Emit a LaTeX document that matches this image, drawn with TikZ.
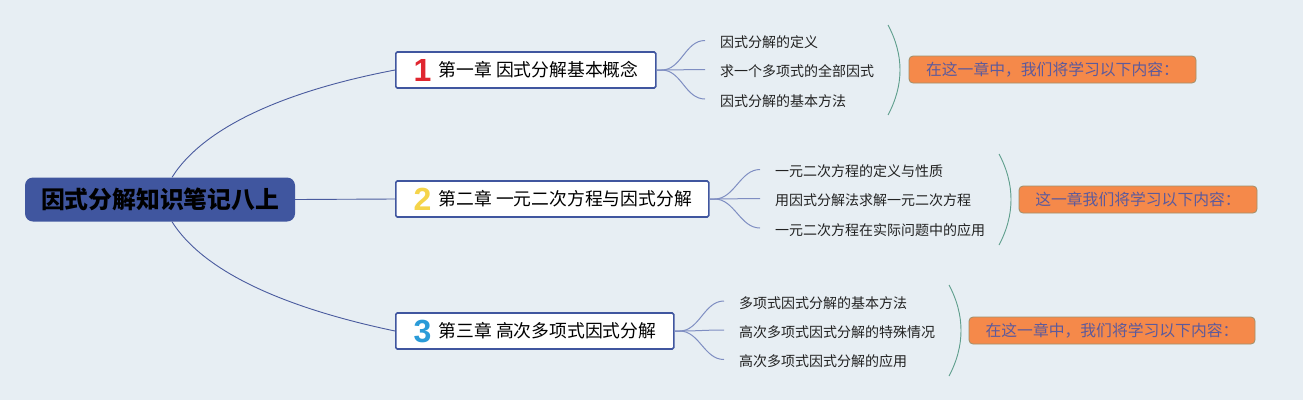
\documentclass[tikz,border=0pt]{standalone}
\usepackage{fontspec}
\setmainfont{Noto Sans CJK SC}
\newfontfamily\digitfont{Liberation Sans}
\definecolor{bg}{HTML}{E7EEF3}
\definecolor{rootfill}{HTML}{40569F}
\definecolor{mainline}{HTML}{4A5B9E}
\definecolor{subline}{HTML}{7F8EC2}
\definecolor{braceline}{HTML}{5E9E8C}
\definecolor{orangefill}{HTML}{F5894A}
\definecolor{orangeedge}{HTML}{A0906A}
\definecolor{orangetext}{HTML}{5C5A9C}
\definecolor{numred}{HTML}{E0262F}
\definecolor{numyellow}{HTML}{F5D44A}
\definecolor{numblue}{HTML}{2A9BD8}
\definecolor{subtext}{HTML}{222222}
\newcommand\chapcontent[4]{\makebox[#1][l]{\hspace*{17.7pt}\raisebox{-4.7pt}{\digitfont\bfseries\fontsize{32}{32}\selectfont\color{#2}#3}\hspace{7.5pt}#4}}
\begin{document}
\begin{tikzpicture}[x=1pt,y=-1pt,
  rootbox/.style={fill=rootfill, rounded corners=8pt, minimum width=270pt, minimum height=44pt, inner sep=0pt, font=\fontsize{23.8}{26}\selectfont\bfseries, text=black},
  chapbox/.style={draw=rootfill, line width=1.6pt, fill=white, rounded corners=1.5pt, minimum height=36pt, inner sep=0pt, anchor=west, font=\fontsize{17.8}{20}\selectfont, text=black},
  subnode/.style={anchor=west, inner sep=0pt, font=\fontsize{14}{16}\selectfont, text=subtext},
  notebox/.style={fill=orangefill, draw=orangeedge, line width=0.8pt, rounded corners=4pt, minimum height=27pt, inner sep=0pt, font=\fontsize{15.8}{18}\selectfont, text=orangetext},
  mainconn/.style={draw=mainline, line width=0.9pt},
  subconn/.style={draw=subline, line width=1pt},
  bracearc/.style={draw=braceline, line width=0.9pt}
]
\fill[bg] (0,0) rectangle (1303,400);
\useasboundingbox (0,0) rectangle (1303,400);

% root
\node[rootbox] (root) at (160,199.5) {因式分解知识笔记八上};

% chapters
\node[chapbox, minimum width=260pt] (c1) at (395,70) {\chapcontent{260pt}{numred}{1}{第一章 因式分解基本概念}};
\node[chapbox, minimum width=313pt] (c2) at (395,199) {\chapcontent{313pt}{numyellow}{2}{第二章 一元二次方程与因式分解}};
\node[chapbox, minimum width=278pt] (c3) at (395,331) {\chapcontent{278pt}{numblue}{3}{第三章 高次多项式因式分解}};

% root connectors
\draw[mainconn] ([xshift=12pt]root.north) .. controls (205,125) and (290,90) .. (c1.west);
\draw[mainconn] (root.east) -- (c2.west);
\draw[mainconn] ([xshift=12pt]root.south) .. controls (205,274) and (290,309) .. (c3.west);

% subtopics chapter 1
\node[subnode] (s11) at (720,42.5) {因式分解的定义};
\node[subnode] (s12) at (720,71.5) {求一个多项式的全部因式};
\node[subnode] (s13) at (720,101) {因式分解的基本方法};
% subtopics chapter 2
\node[subnode] (s21) at (775,171.5) {一元二次方程的定义与性质};
\node[subnode] (s22) at (775,200.5) {用因式分解法求解一元二次方程};
\node[subnode] (s23) at (775,230) {一元二次方程在实际问题中的应用};
% subtopics chapter 3
\node[subnode] (s31) at (739,303) {多项式因式分解的基本方法};
\node[subnode] (s32) at (739,332) {高次多项式因式分解的特殊情况};
\node[subnode] (s33) at (739,361.5) {高次多项式因式分解的应用};

% branches
\foreach \c/\s in {c1/s11,c1/s12,c1/s13,c2/s21,c2/s22,c2/s23,c3/s31,c3/s32,c3/s33}{
  \draw[subconn] (\c.east) -- ++(5,0) .. controls +(20,0) and +(-20,0) .. ([xshift=-15pt,yshift=2pt]\s.west);
}

% summary braces
\coordinate (b1t) at (888,25);  \coordinate (b1b) at (888,115);
\coordinate (b2t) at (999,154); \coordinate (b2b) at (999,245);
\coordinate (b3t) at (949,285); \coordinate (b3b) at (949,376);
\draw[bracearc] (b1t) .. controls (904,55) and (904,85) .. (b1b);
\draw[bracearc] (b2t) .. controls (1015,184) and (1015,215) .. (b2b);
\draw[bracearc] (b3t) .. controls (965,315) and (965,346) .. (b3b);

% notes
\node[notebox, minimum width=287pt] (n1) at (1052.5,69.5) {在这一章中，我们将学习以下内容：};
\node[notebox, minimum width=238pt] (n2) at (1138,199.5) {这一章我们将学习以下内容：};
\node[notebox, minimum width=286pt] (n3) at (1112,330.5) {在这一章中，我们将学习以下内容：};
\end{tikzpicture}
\end{document}
